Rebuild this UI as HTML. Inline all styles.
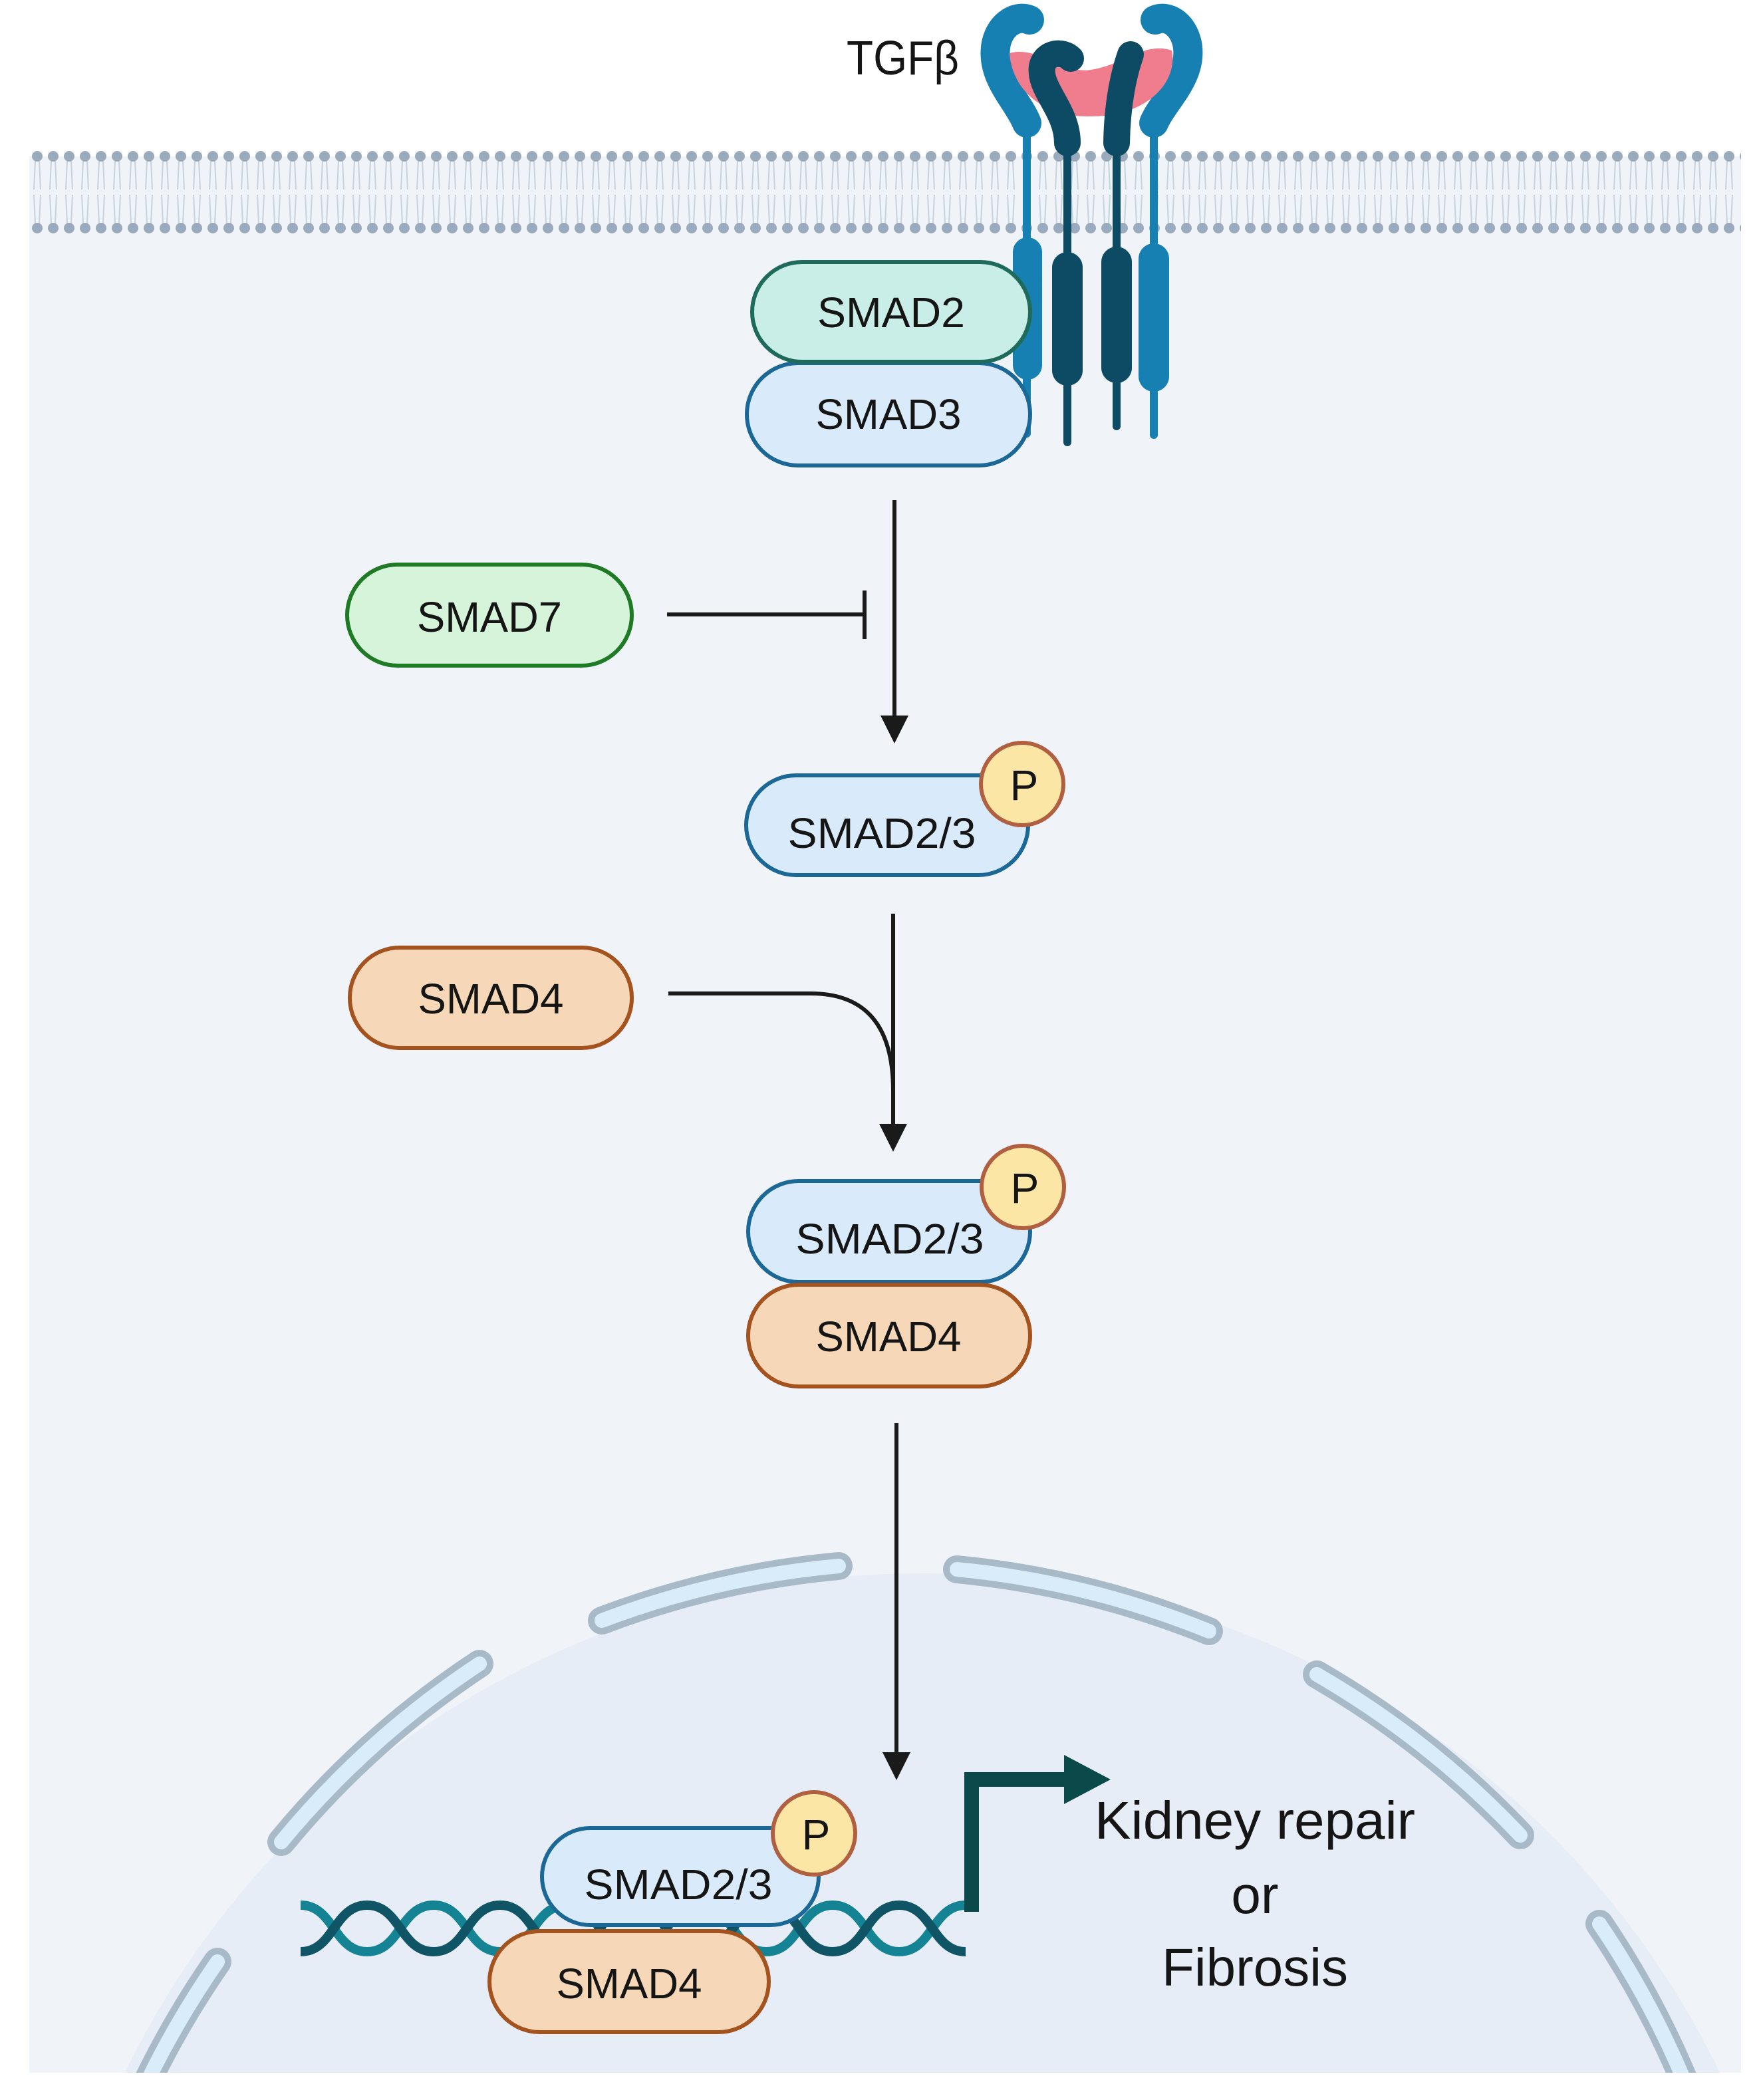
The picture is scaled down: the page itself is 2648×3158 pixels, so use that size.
<!DOCTYPE html>
<html><head><meta charset="utf-8"><style>html,body{margin:0;padding:0;background:#fff;width:2648px;height:3158px;overflow:hidden}svg{display:block}text{font-family:"Liberation Sans",sans-serif;fill:#151515}</style></head>
<body>
<svg width="2648" height="3158" viewBox="0 0 2648 3158" xmlns="http://www.w3.org/2000/svg">
<defs>
<pattern id="mem" patternUnits="userSpaceOnUse" x="44" y="0" width="24" height="400">
<line x1="9" y1="242" x2="7" y2="285" stroke="#c6d2de" stroke-width="2"/>
<line x1="15" y1="242" x2="17" y2="285" stroke="#c6d2de" stroke-width="2"/>
<line x1="7" y1="293" x2="9" y2="336" stroke="#c6d2de" stroke-width="2"/>
<line x1="17" y1="293" x2="15" y2="336" stroke="#c6d2de" stroke-width="2"/>
<circle cx="12" cy="235" r="8" fill="#9aabbd"/>
<circle cx="12" cy="343" r="8" fill="#9aabbd"/>
</pattern>
<clipPath id="pc"><rect x="44" y="0" width="2574" height="3117"/></clipPath>
</defs>
<rect x="44" y="235" width="2574" height="2882" fill="#f0f4f9"/>
<rect x="44" y="222" width="2574" height="134" fill="url(#mem)"/>
<g clip-path="url(#pc)">
<circle cx="1387" cy="3699" r="1333" fill="#e6edf6"/>
<g fill="none" stroke-linecap="round">
<g stroke="#a8bac8" stroke-width="42">
<path d="M905 2437 A1350 1350 0 0 1 1261 2355"/>
<path d="M1439 2360 A1350 1350 0 0 1 1818 2453"/>
<path d="M423 2770 A1350 1350 0 0 1 721 2502"/>
<path d="M1980 2518 A1350 1350 0 0 1 2286 2760"/>
<path d="M190 3200 A1350 1350 0 0 1 327 2950"/>
<path d="M2405 2893 A1350 1350 0 0 1 2560 3200"/>
</g>
<g stroke="#d8ecfa" stroke-width="22">
<path d="M905 2437 A1350 1350 0 0 1 1261 2355"/>
<path d="M1439 2360 A1350 1350 0 0 1 1818 2453"/>
<path d="M423 2770 A1350 1350 0 0 1 721 2502"/>
<path d="M1980 2518 A1350 1350 0 0 1 2286 2760"/>
<path d="M190 3200 A1350 1350 0 0 1 327 2950"/>
<path d="M2405 2893 A1350 1350 0 0 1 2560 3200"/>
</g>
</g>
</g>
<!-- receptors -->
<g stroke-linecap="round" fill="none">
<path d="M1544 185 C1530 150 1488 115 1498 65 C1505 35 1530 22 1548 30" stroke="#1780b2" stroke-width="44"/>
<path d="M1735 185 C1750 150 1795 115 1785 65 C1778 35 1755 22 1737 30" stroke="#1780b2" stroke-width="44"/>
</g>
<path d="M1518 80 C1560 68 1600 112 1640 105 C1690 98 1720 62 1762 76 C1772 125 1722 176 1640 175 C1568 177 1522 135 1518 80Z" fill="#f07d8e"/>
<g stroke-linecap="round" fill="none">
<path d="M1605 215 C1605 165 1562 135 1567 100 C1572 78 1598 76 1610 88" stroke="#0d4a63" stroke-width="40"/>
<path d="M1679 215 C1680 155 1690 110 1700 82" stroke="#0d4a63" stroke-width="40"/>
<line x1="1544" y1="190" x2="1544" y2="652" stroke="#1780b2" stroke-width="12"/>
<line x1="1735" y1="190" x2="1735" y2="654" stroke="#1780b2" stroke-width="12"/>
<line x1="1605" y1="200" x2="1605" y2="665" stroke="#0d4a63" stroke-width="12"/>
<line x1="1679" y1="200" x2="1679" y2="641" stroke="#0d4a63" stroke-width="12"/>
</g>
<rect x="1523" y="357" width="44" height="214" rx="22" fill="#1780b2"/>
<rect x="1712" y="366" width="46" height="223" rx="23" fill="#1780b2"/>
<rect x="1582" y="379" width="46" height="201" rx="23" fill="#0d4a63"/>
<rect x="1656" y="371" width="46" height="205" rx="23" fill="#0d4a63"/>
<text x="1273" y="112" font-size="72" textLength="169" lengthAdjust="spacingAndGlyphs">TGFβ</text>
<!-- SMAD2/3 top -->
<rect x="1123" y="546" width="426" height="154" rx="77" fill="#d9ebfa" stroke="#1b6796" stroke-width="6"/>
<rect x="1131" y="394" width="418" height="150" rx="75" fill="#c9eee8" stroke="#1e6b5c" stroke-width="6"/>
<text x="1340" y="492" font-size="64" text-anchor="middle" textLength="222" lengthAdjust="spacingAndGlyphs">SMAD2</text>
<text x="1336" y="645" font-size="64" text-anchor="middle" textLength="219" lengthAdjust="spacingAndGlyphs">SMAD3</text>
<!-- arrows -->
<g stroke="#1a1a1a" stroke-width="6" fill="none">
<line x1="1345" y1="752" x2="1345" y2="1080"/>
<line x1="1003" y1="924" x2="1300" y2="924"/>
<line x1="1300" y1="888" x2="1300" y2="961"/>
<line x1="1343" y1="1374" x2="1343" y2="1690"/>
<path d="M1005 1494 H1219 Q1343 1494 1343 1640"/>
<line x1="1348" y1="2140" x2="1348" y2="2635"/>
</g>
<g fill="#1a1a1a">
<path d="M1324 1076 L1366 1076 L1345 1118Z"/>
<path d="M1322 1690 L1364 1690 L1343 1732Z"/>
<path d="M1327 2635 L1369 2635 L1348 2677Z"/>
</g>
<!-- SMAD7 -->
<rect x="522" y="849" width="428" height="152" rx="76" fill="#d6f4da" stroke="#1e7a25" stroke-width="6"/>
<text x="736" y="950" font-size="64" text-anchor="middle" textLength="218" lengthAdjust="spacingAndGlyphs">SMAD7</text>
<!-- SMAD2/3 P -->
<rect x="1122" y="1166" width="424" height="150" rx="75" fill="#d9ebfa" stroke="#1b6796" stroke-width="6"/>
<text x="1326" y="1275" font-size="64" text-anchor="middle" textLength="283" lengthAdjust="spacingAndGlyphs">SMAD2/3</text>
<circle cx="1537" cy="1179" r="62" fill="#fbe6a6" stroke="#b06040" stroke-width="6"/>
<text x="1540" y="1203" font-size="64" text-anchor="middle">P</text>
<!-- SMAD4 left -->
<rect x="526" y="1425" width="424" height="151" rx="75" fill="#f6d8b8" stroke="#a4531e" stroke-width="6"/>
<text x="738" y="1524" font-size="64" text-anchor="middle" textLength="219" lengthAdjust="spacingAndGlyphs">SMAD4</text>
<!-- complex -->
<rect x="1125" y="1776" width="424" height="152" rx="76" fill="#d9ebfa" stroke="#1b6796" stroke-width="6"/>
<rect x="1125" y="1932" width="424" height="153" rx="76" fill="#f6d8b8" stroke="#a4531e" stroke-width="6"/>
<text x="1338" y="1885" font-size="64" text-anchor="middle" textLength="283" lengthAdjust="spacingAndGlyphs">SMAD2/3</text>
<text x="1336" y="2032" font-size="64" text-anchor="middle" textLength="219" lengthAdjust="spacingAndGlyphs">SMAD4</text>
<circle cx="1538" cy="1785" r="62" fill="#fbe6a6" stroke="#b06040" stroke-width="6"/>
<text x="1541" y="1809" font-size="64" text-anchor="middle">P</text>
<!-- DNA -->
<g fill="none" stroke-width="14">
<path d="M452 2865 C502 2865 502 2935 552 2935 C602 2935 602 2865 652 2865 C702 2865 702 2935 752 2935 C802 2935 802 2865 852 2865 C902 2865 902 2935 952 2935 C1002 2935 1002 2865 1052 2865 C1102 2865 1102 2935 1152 2935 C1202 2935 1202 2865 1252 2865 C1302 2865 1302 2935 1352 2935 C1402 2935 1402 2865 1452 2865" stroke="#148394"/>
<path d="M452 2935 C502 2935 502 2865 552 2865 C602 2865 602 2935 652 2935 C702 2935 702 2865 752 2865 C802 2865 802 2935 852 2935 C902 2935 902 2865 952 2865 C1002 2865 1002 2935 1052 2935 C1102 2935 1102 2865 1152 2865 C1202 2865 1202 2935 1252 2935 C1302 2935 1302 2865 1352 2865 C1402 2865 1402 2935 1452 2935" stroke="#0f5566"/>
</g>
<rect x="815" y="2749" width="416" height="146" rx="73" fill="#d9ebfa" stroke="#1b6796" stroke-width="6"/>
<rect x="736" y="2904" width="420" height="152" rx="76" fill="#f6d8b8" stroke="#a4531e" stroke-width="6"/>
<text x="1020" y="2856" font-size="64" text-anchor="middle" textLength="283" lengthAdjust="spacingAndGlyphs">SMAD2/3</text>
<text x="946" y="3005" font-size="64" text-anchor="middle" textLength="219" lengthAdjust="spacingAndGlyphs">SMAD4</text>
<circle cx="1224" cy="2757" r="62" fill="#fbe6a6" stroke="#b06040" stroke-width="6"/>
<text x="1227" y="2781" font-size="64" text-anchor="middle">P</text>
<!-- transcription arrow -->
<path d="M1461 2875 V2676 H1610" fill="none" stroke="#0b4a4a" stroke-width="22"/>
<path d="M1600 2639 L1670 2676 L1600 2713Z" fill="#0b4a4a"/>
<text x="1887" y="2765" font-size="80" text-anchor="middle" textLength="482" lengthAdjust="spacingAndGlyphs">Kidney repair</text>
<text x="1887" y="2877" font-size="80" text-anchor="middle">or</text>
<text x="1887" y="2986" font-size="80" text-anchor="middle">Fibrosis</text>
</svg>
</body></html>
